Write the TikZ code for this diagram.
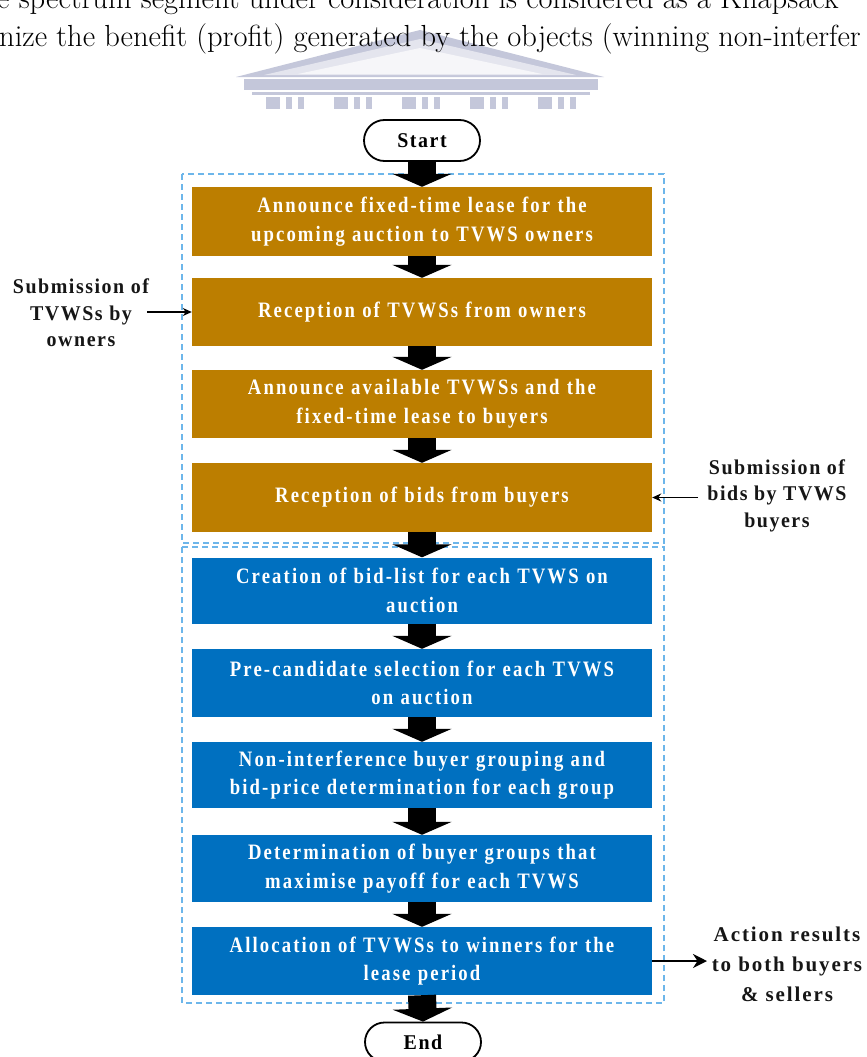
\documentclass[tikz,border=0pt]{standalone}
\usepackage{fontspec}
\newfontfamily\flowfont[LetterSpace=9.6,FakeStretch=0.85]{Liberation Serif}
\newfontfamily\sidefont[LetterSpace=7.3,FakeStretch=0.95]{Liberation Serif}
\newfontfamily\resultfont[LetterSpace=9]{Liberation Serif}
\usetikzlibrary{arrows.meta,shapes.misc}

\definecolor{auctiongold}{HTML}{BC7E00}
\definecolor{auctionblue}{HTML}{0070C0}
\definecolor{phaseframe}{HTML}{6DB6EA}
\definecolor{crestband}{HTML}{C4C7DA}
\definecolor{crestlight}{HTML}{E4E5EE}
\definecolor{crestpale}{HTML}{F6F6F9}
\definecolor{labelink}{HTML}{161616}

\begin{document}
\begin{tikzpicture}[x=1pt,y=-1pt,
  stepbox/.style={minimum width=460pt, minimum height=#1, inner sep=0pt,
    text width=456pt, align=center, text=white,
    font=\flowfont\bfseries\fontsize{22}{28.6}\selectfont},
  goldstep/.style={stepbox=#1, fill=auctiongold},
  bluestep/.style={stepbox=#1, fill=auctionblue},
  terminal/.style={draw=black, line width=1.8pt, rounded rectangle,
    minimum width=116pt, minimum height=#1, inner sep=0pt, text=black,
    font=\sidefont\bfseries\fontsize{21}{22}\selectfont},
  sidelabel/.style={align=center, inner sep=0pt, text=labelink,
    font=\sidefont\bfseries\fontsize{21}{26.5}\selectfont},
  resultlabel/.style={align=center, inner sep=0pt, text=labelink,
    font=\resultfont\bfseries\fontsize{21}{30}\selectfont},
  phasebox/.style={draw=phaseframe, line width=1.6pt, dash pattern=on 6pt off 4pt},
  flowarrow/.style={draw=black, line width=28pt, -{Triangle[width=59pt,length=13pt]}},
  sidearrow/.style={draw=black, line width=1.4pt, -{Stealth[length=9pt,width=8pt]}},
  resultarrow/.style={draw=black, line width=2.4pt, -{Stealth[length=14pt,width=14pt]}},
  pagetext/.style={anchor=base west, inner sep=0pt, text=black,
    font=\fontsize{30.5}{30.5}\selectfont}
]
\useasboundingbox (0,0) rectangle (867,1057);
\fill[white] (0,0) rectangle (867,1057);
\clip (0,0) rectangle (867,1057);

% faint crest behind the running text
\fill[crestband] (236,77) -- (420,30) -- (604,77) -- cycle;
\fill[crestlight] (264,75) -- (420,39) -- (576,75) -- cycle;
\fill[crestpale] (298,74) -- (420,48) -- (542,74) -- cycle;
\fill[crestband] (244,79) rectangle (598,90);
\fill[crestband] (252,92) rectangle (590,95);
\foreach \i in {0,...,4} {
  \pgfmathsetmacro{\cx}{266+68*\i}
  \fill[crestband] (\cx,97) rectangle (\cx+14,109);
  \fill[crestband] (\cx+20,97) rectangle (\cx+26,109);
  \fill[crestband] (\cx+32,97) rectangle (\cx+38,109);
}

% running text of the page
\node[pagetext] (pageline1) at (-3,9) {e spectrum segment under consideration is considered as a Knapsack};
\node[pagetext] (pageline2) at (-1,47) {nize the benefit (profit) generated by the objects (winning non-interfer};

% phase frames
\draw[phasebox] (182,174) rectangle (664,543);
\draw[phasebox] (182,547) rectangle (664,1003);

% terminals
\node[terminal=41pt] (start) at (422,140.5) {Start};
\node[terminal=39pt] (end) at (423,1042) {End};

% lease announcement and bidding phase
\node[goldstep=69pt] (g1) at (422,221.5) {Announce fixed-time lease for the\\upcoming auction to TVWS owners};
\node[goldstep=68pt] (g2) at (422,312) {Reception of TVWSs from owners};
\node[goldstep=68pt] (g3) at (422,404) {Announce available TVWSs and the\\fixed-time lease to buyers};
\node[goldstep=69pt] (g4) at (422,497.5) {Reception of bids from buyers};

% winner determination phase
\node[bluestep=66pt] (b1) at (422,590.5) {Creation of bid-list for each TVWS on\\auction};
\node[bluestep=68pt] (b2) at (422,683) {Pre-candidate selection for each TVWS\\on auction};
\node[bluestep=66pt] (b3) at (422,775) {Non-interference buyer grouping and\\bid-price determination for each group};
\node[bluestep=67pt] (b4) at (422,868.5) {Determination of buyer groups that\\maximise payoff for each TVWS};
\node[bluestep=68pt] (b5) at (422,961) {Allocation of TVWSs to winners for the\\lease period};

% main flow
\draw[flowarrow] (start.south) -- (g1.north);
\draw[flowarrow] (g1.south) -- (g2.north);
\draw[flowarrow] (g2.south) -- (g3.north);
\draw[flowarrow] (g3.south) -- (g4.north);
\draw[flowarrow] (g4.south) -- (b1.north);
\draw[flowarrow] (b1.south) -- (b2.north);
\draw[flowarrow] (b2.south) -- (b3.north);
\draw[flowarrow] (b3.south) -- (b4.north);
\draw[flowarrow] (b4.south) -- (b5.north);
\draw[flowarrow] (b5.south) -- (end.north);

% external inputs and outputs
\node[sidelabel] (owners) at (81,313) {Submission of\\TVWSs by\\owners};
\node[sidelabel] (buyers) at (777,495.5) {Submission of\\bids by TVWS\\buyers};
\node[resultlabel] (results) at (787,964) {Action results\\to both buyers\\\& sellers};
\coordinate (ownersout) at (147,312);
\coordinate (buyersout) at (698,497.5);
\coordinate (resultsin) at (707,961);
\draw[sidearrow] (ownersout) -- (g2.west);
\draw[sidearrow] (buyersout) -- (g4.east);
\draw[resultarrow] (b5.east) -- (resultsin);
\end{tikzpicture}
\end{document}
